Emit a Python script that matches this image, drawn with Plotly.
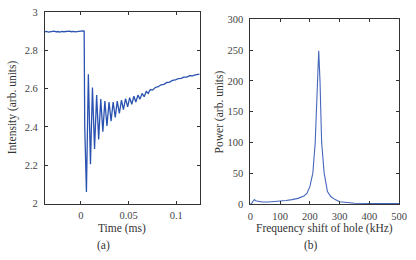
import plotly.graph_objects as go

W, H = 416, 260

# ---- Panel (a): intensity vs time ----
flat_t = [-0.038, -0.036, -0.034, -0.032, -0.030, -0.028, -0.026, -0.024, -0.022, -0.020,
          -0.018, -0.016, -0.014, -0.012, -0.010, -0.008, -0.006, -0.004, -0.002, 0.000,
          0.002, 0.0034]
flat_v = [2.896, 2.899, 2.895, 2.898, 2.897, 2.900, 2.896, 2.898, 2.895, 2.899,
          2.897, 2.898, 2.896, 2.900, 2.897, 2.899, 2.896, 2.898, 2.897, 2.899,
          2.901, 2.900]
osc_t = [0.0040, 0.0058, 0.0078, 0.0100, 0.0121, 0.0143, 0.0165, 0.0186, 0.0208, 0.0230, 0.0251,
         0.0273, 0.0295, 0.0316, 0.0338, 0.0360, 0.0381, 0.0403, 0.0425, 0.0446, 0.0468,
         0.0490, 0.0511, 0.0533, 0.0555, 0.0576, 0.0598, 0.0620, 0.0641, 0.0663, 0.0685,
         0.0706, 0.0728, 0.0750, 0.0780, 0.0810, 0.0840, 0.0870, 0.0900, 0.0930, 0.0960,
         0.0990, 0.1020, 0.1050, 0.1080, 0.1110, 0.1140, 0.1170, 0.1200, 0.1245]
osc_v = [2.400, 2.060, 2.675, 2.205, 2.606, 2.285, 2.566, 2.335, 2.545, 2.375, 2.535,
         2.405, 2.530, 2.430, 2.530, 2.450, 2.535, 2.470, 2.540, 2.490, 2.548,
         2.505, 2.553, 2.518, 2.560, 2.530, 2.566, 2.545, 2.575, 2.558, 2.585,
         2.575, 2.595, 2.592, 2.606, 2.610, 2.620, 2.622, 2.632, 2.634, 2.643,
         2.645, 2.652, 2.653, 2.660, 2.660, 2.667, 2.666, 2.672, 2.676]
time_ms = flat_t + osc_t
intensity = flat_v + osc_v

# ---- Panel (b): power spectrum ----
freq_khz = [0, 5, 10, 14, 18, 25, 40, 60, 80, 100, 120, 140, 160, 180, 190, 200, 210,
            218, 224.5, 229.7, 234, 239.5, 248, 259, 270, 285, 300, 315, 330, 350,
            400, 450, 500]
power = [0, 1, 5, 7, 5, 4, 3, 3, 3.5, 4, 5.5, 7, 9, 13, 17, 28, 50,
         100, 200, 249, 200, 100, 50, 20, 12, 7, 3.5, 2.5, 1.5, 1.2,
         0.8, 0.6, 0.5]

font_family = "Liberation Serif"
axis_col = "#333333"
line_col = "#2a52b0"

fig = go.Figure()
fig.add_trace(go.Scatter(x=time_ms, y=intensity, mode="lines",
                         line=dict(color=line_col, width=1.3), xaxis="x", yaxis="y",
                         showlegend=False))
fig.add_trace(go.Scatter(x=freq_khz, y=power, mode="lines",
                         line=dict(color="#4466bb", width=1.1), xaxis="x2", yaxis="y2",
                         showlegend=False))

common = dict(showline=True, linecolor=axis_col, linewidth=1, mirror="ticks",
              ticks="inside", ticklen=3, tickcolor=axis_col, showgrid=False,
              zeroline=False, tickfont=dict(family=font_family, size=10.5, color="#444"))

def px_x(p):
    return p / W

def px_y(p):
    return 1 - p / H

fig.update_layout(
    width=W, height=H,
    margin=dict(l=0, r=0, t=0, b=0),
    paper_bgcolor="white", plot_bgcolor="white",
    xaxis=dict(domain=[px_x(43), px_x(202)], range=[-0.0378, 0.1245],
               tickvals=[0, 0.05, 0.1], ticktext=["0", "0.05", "0.1"],
               anchor="y", ticklabelstandoff=2, **common),
    yaxis=dict(domain=[px_y(207.3), px_y(7.3)], range=[2, 3],
               tickvals=[2, 2.2, 2.4, 2.6, 2.8, 3], ticktext=["2", "2.2", "2.4", "2.6", "2.8", "3"],
               anchor="x", ticklabelstandoff=4, **common),
    xaxis2=dict(domain=[px_x(254), px_x(407)], range=[0, 500],
                tickvals=[0, 100, 200, 300, 400, 500], anchor="y2", ticklabelstandoff=2, **common),
    yaxis2=dict(domain=[px_y(207.7), px_y(15)], range=[0, 300],
                tickvals=[0, 50, 100, 150, 200, 250, 300], anchor="x2",
                ticklabelstandoff=4, **common),
)

def ann(text, x, y, angle=0):
    fig.add_annotation(text=text, x=px_x(x), y=px_y(y), xref="paper", yref="paper",
                       showarrow=False, textangle=angle, xanchor="center", yanchor="middle",
                       font=dict(family=font_family, size=11.5, color="#333"))

ann("Intensity (arb. units)", 10, 107, -90)
ann("Time (ms)", 122, 233)
ann("(a)", 103, 251)
ann("Power (arb. units)", 222, 112, -90)
ann("Frequency shift of hole (kHz)", 330, 233)
ann("(b)", 316, 251)

fig.write_html("out.html")
